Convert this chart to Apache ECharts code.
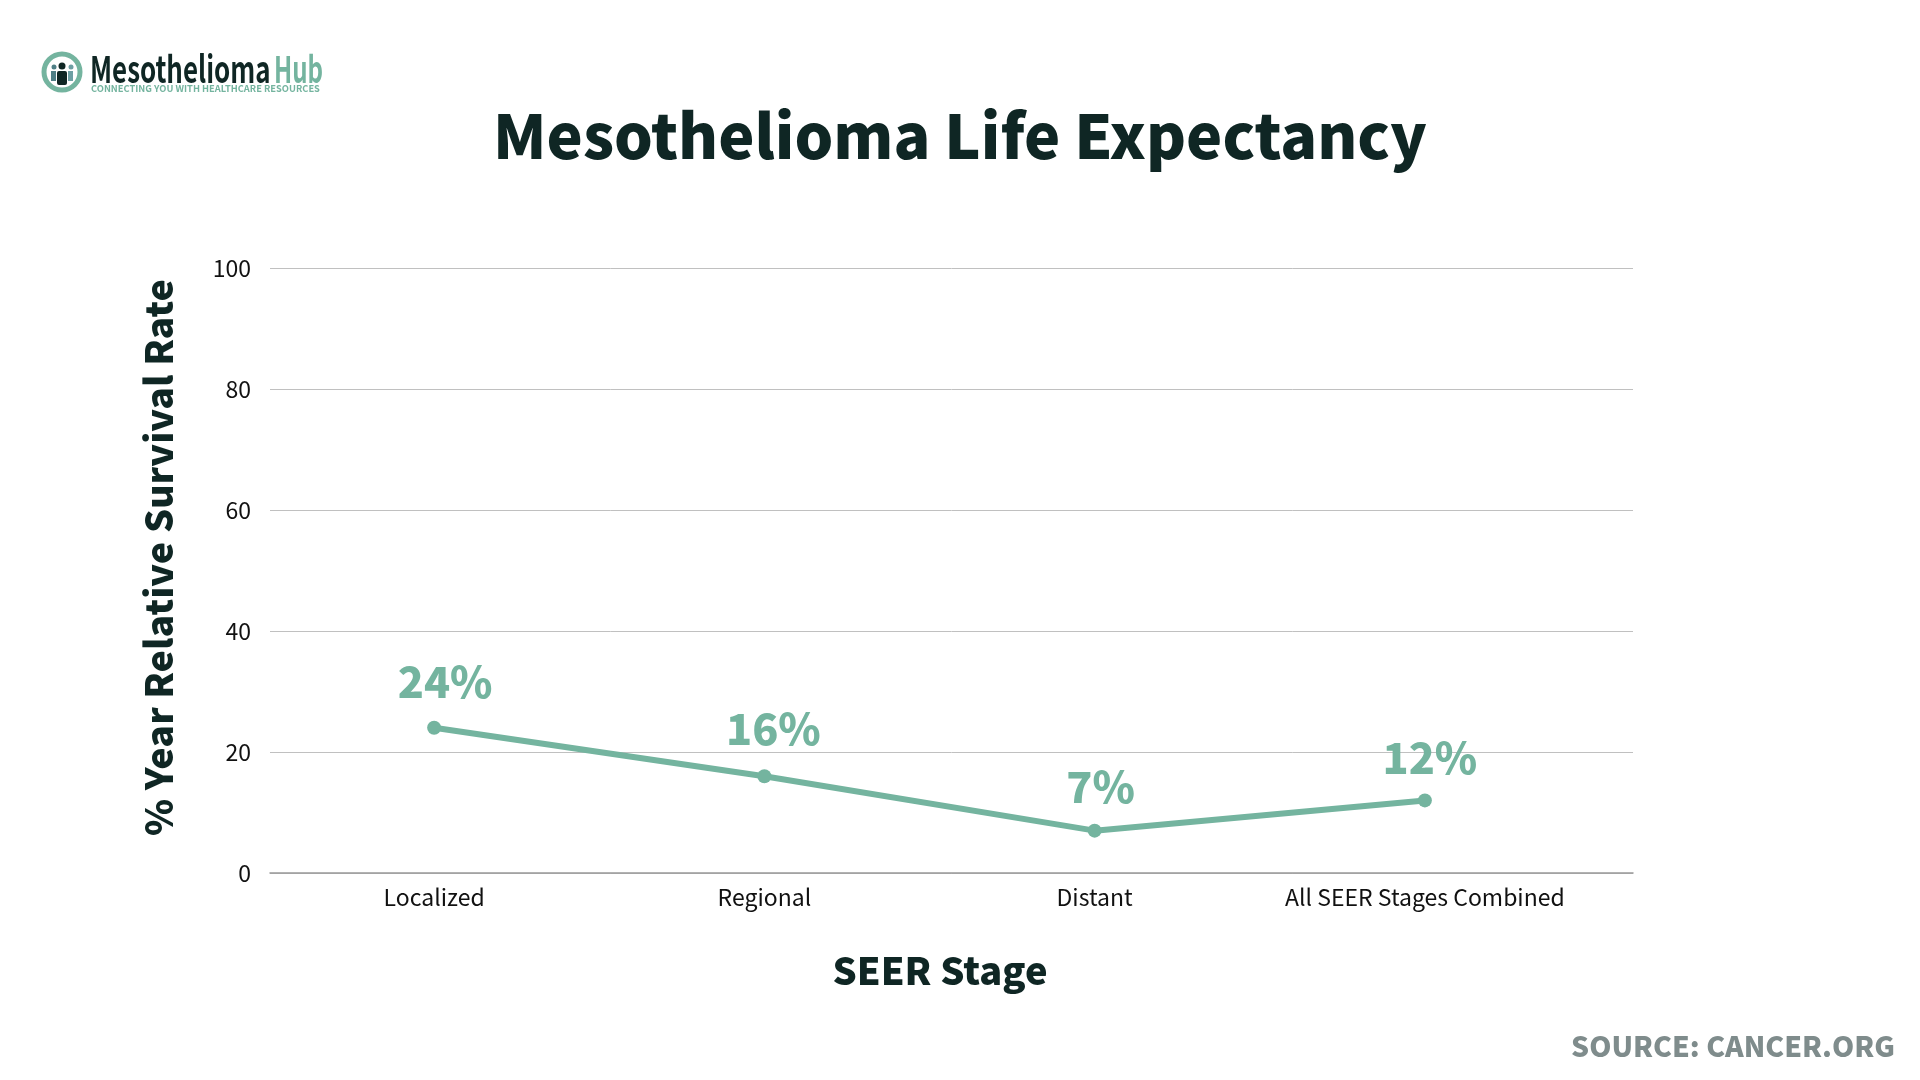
<!DOCTYPE html>
<html lang="en">
<head>
<meta charset="UTF-8">
<title>Mesothelioma Life Expectancy</title>
<style>html,body{margin:0;background:#fff}#chart{width:1920px;height:1080px}</style>
</head>
<body>
<div id="chart"></div>
<script src="https://cdn.jsdelivr.net/npm/echarts@6/dist/echarts.min.js"></script>
<script>
const stages = ['Localized', 'Regional', 'Distant', 'All SEER Stages Combined'];
const survival = [24, 16, 7, 12];
// the labels sit slightly off the points, a little differently for each
const labelNudges = [[11, -13], [9, -14], [6, -10], [5, -9]];

const font = '"Noto Sans CJK SC", "Noto Sans", sans-serif';
const teal = '#74b49f';
const dark = '#0f2624';

const chart = echarts.init(document.getElementById('chart'));
chart.setOption({
    animation: false,
    backgroundColor: '#fff',
    textStyle: {fontFamily: font},
    title: [
        {text: 'Mesothelioma Life Expectancy', left: 955, top: 100, textAlign: 'center',
            textStyle: {fontFamily: font, fontSize: 61, fontWeight: 900, color: dark}},
        {text: 'SOURCE: CANCER.ORG', right: 20, top: 1027,
            textStyle: {fontFamily: font, fontSize: 28.3, fontWeight: 900, color: '#7f8c8c'}}
    ],
    // the gridlines run further right than the category bands, hence two grids
    grid: [
        {left: 270, top: 268, width: 1363, height: 605},
        {left: 269, top: 268, width: 1321, height: 605}
    ],
    xAxis: [
        {gridIndex: 0, type: 'value', min: 0, max: 1, show: true,
            axisLine: {show: true, onZero: false, lineStyle: {color: '#999', width: 1.5}},
            axisTick: {show: false}, axisLabel: {show: false}, splitLine: {show: false},
            name: 'SEER Stage', nameLocation: 'middle', nameGap: 79,
            nameTextStyle: {fontFamily: font, fontSize: 38, fontWeight: 900, color: dark, padding: [0, 23, 0, 0]}},
        {gridIndex: 1, type: 'category', data: stages,
            axisLine: {show: false}, axisTick: {show: false},
            axisLabel: {interval: 0, margin: 13, fontFamily: font, fontSize: 23, color: '#111'}}
    ],
    yAxis: [
        {gridIndex: 0, type: 'value', min: 0, max: 100, interval: 20,
            axisLine: {show: false}, axisTick: {show: false},
            axisLabel: {margin: 19, fontFamily: font, fontSize: 23, color: '#111'},
            splitLine: {lineStyle: {color: '#c0c0c0', width: 1}},
            name: '% Year Relative Survival Rate', nameLocation: 'middle', nameGap: 92,
            nameTextStyle: {fontFamily: font, fontSize: 37.7, fontWeight: 900, color: dark, padding: [0, 0, 0, 26]}},
        {gridIndex: 1, type: 'value', min: 0, max: 100, show: false}
    ],
    series: [{
        type: 'line',
        xAxisIndex: 1,
        yAxisIndex: 1,
        data: survival.map((v, i) => ({value: v, label: {offset: labelNudges[i]}})),
        symbol: 'circle',
        symbolSize: 14,
        lineStyle: {color: teal, width: 6},
        itemStyle: {color: teal},
        label: {show: true, position: 'top', formatter: '{c}%',
            fontFamily: font, fontSize: 43, fontWeight: 900, color: teal}
    }],
    graphic: [
        {type: 'circle', shape: {cx: 62, cy: 72, r: 18}, style: {fill: '#fff', stroke: teal, lineWidth: 5}},
        {type: 'circle', shape: {cx: 62, cy: 66, r: 3.5}, style: {fill: dark}},
        {type: 'rect', shape: {x: 57, y: 71, width: 10, height: 14, r: 2}, style: {fill: dark}},
        {type: 'circle', shape: {cx: 54, cy: 67, r: 2.5}, style: {fill: '#4f7f86'}},
        {type: 'circle', shape: {cx: 71, cy: 67, r: 2.5}, style: {fill: '#6d9fa3'}},
        {type: 'rect', shape: {x: 51, y: 71, width: 5, height: 10}, style: {fill: '#4f7f86'}},
        {type: 'rect', shape: {x: 68, y: 71, width: 5, height: 10}, style: {fill: '#6d9fa3'}},
        {type: 'text', x: 90, y: 50, scaleX: 0.7, style: {text: 'Mesothelioma', fontFamily: font, fontSize: 37, fontWeight: 700, fill: dark}},
        {type: 'text', x: 274, y: 50, scaleX: 0.65, style: {text: 'Hub', fontFamily: font, fontSize: 37, fontWeight: 700, fill: teal}},
        {type: 'text', x: 91, y: 84, style: {text: 'CONNECTING YOU WITH HEALTHCARE RESOURCES', fontFamily: font, fontSize: 9.3, fontWeight: 700, fill: teal}}
    ]
});
</script>
</body>
</html>
